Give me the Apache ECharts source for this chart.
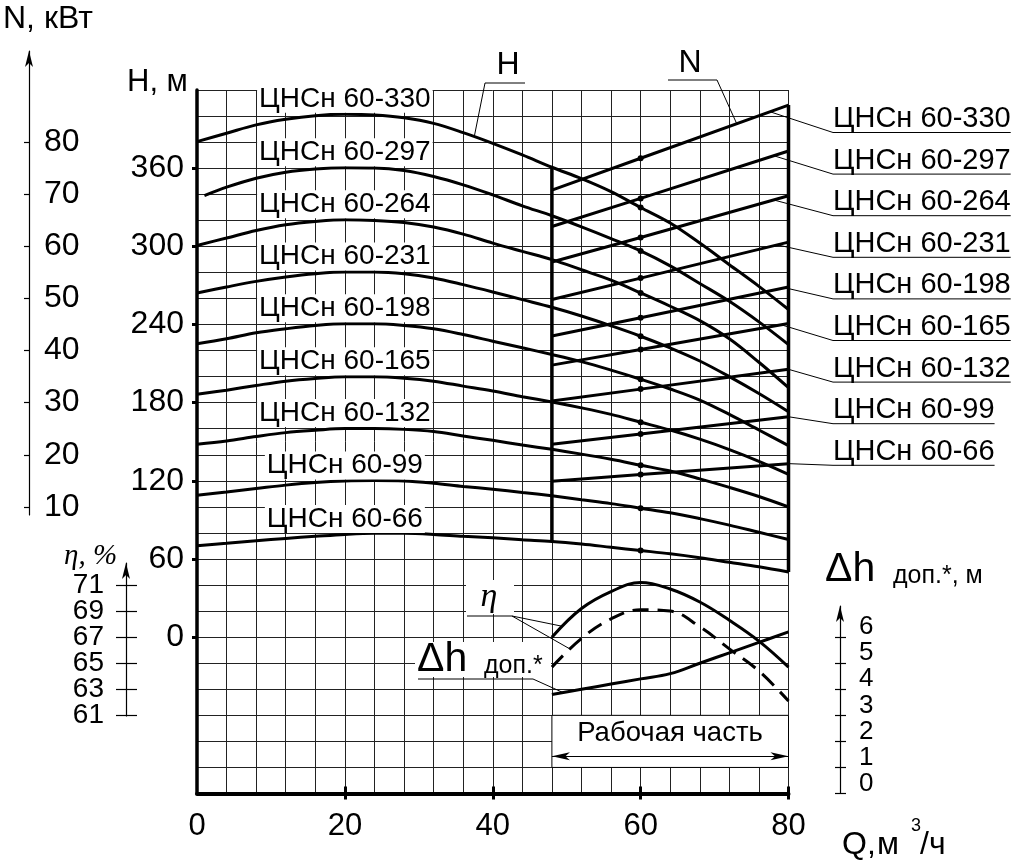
<!DOCTYPE html>
<html>
<head>
<meta charset="utf-8">
<script src="https://cdn.jsdelivr.net/npm/echarts@6/dist/echarts.min.js"></script>
<style>
  html, body { margin: 0; padding: 0; background: #fff; }
  #chart { width: 1024px; height: 863px; }
</style>
</head>
<body>
<div id="chart"></div>
<script>
// ---- данные ----
const pumpNames = ['ЦНСн 60-330', 'ЦНСн 60-297', 'ЦНСн 60-264', 'ЦНСн 60-231', 'ЦНСн 60-198',
                   'ЦНСн 60-165', 'ЦНСн 60-132', 'ЦНСн 60-99', 'ЦНСн 60-66'];

// подача Q, м3/ч для кривых H
const qH    = [0, 4, 8, 12, 16, 20, 24, 28, 32, 36, 40, 44, 48, 52, 56, 60, 64, 68, 72, 76, 80];
const qH297 = [1, 4, 8, 12, 16, 20, 24, 28, 32, 36, 40, 44, 48, 52, 56, 60, 64, 68, 72, 76, 80];

// напор H, м
const h330 = [380.4, 386.8, 393.2, 397.5, 400.3, 401.3, 400.8, 398.7, 394.4, 387.3, 379.1, 370.2, 360.7, 352, 342, 329.8, 317.9, 302.5, 285.9, 269.3, 251.5];
const h297 = [338.9, 345.4, 352.3, 356.9, 359.4, 360.4, 360.2, 358.2, 353.6, 347.2, 339.5, 331.1, 323.5, 315, 306, 296.5, 285, 271.5, 257.8, 242, 224.6];
const h264 = [300.7, 306.4, 312.2, 316.6, 319.1, 320.4, 319.9, 318.3, 314.8, 309.4, 302.5, 296.1, 289.8, 282, 274, 264.2, 254, 243, 229, 211, 191.5];
const h231 = [264.2, 268.8, 273.1, 276.5, 279, 280.3, 280.3, 279, 275.7, 270.6, 265, 259.1, 253.2, 246.5, 239, 231, 222, 212, 200, 187, 173];
const h198 = [225.2, 229, 233.6, 236.7, 239.2, 240.5, 240.5, 239.2, 236.7, 232.3, 227.2, 222.1, 217, 211.5, 205, 198, 190.5, 182, 171, 159, 147];
const h165 = [186.4, 189.6, 193.2, 196.5, 198.6, 199.9, 199.9, 198.8, 196.5, 192.7, 188.9, 184.6, 180.5, 176, 171, 165, 159, 152, 144, 135, 125];
const h132 = [148.1, 150.6, 154, 157, 158.8, 160.1, 160.1, 159.5, 157.8, 154.4, 151.1, 147.5, 144.2, 140.5, 136.5, 132, 127.5, 121.5, 115, 108, 100];
const h99  = [109, 111.5, 114.1, 116.7, 118.7, 119.9, 120.2, 119.9, 118.2, 115.7, 113.6, 111.1, 108.5, 105.5, 102.5, 99, 95.5, 91, 86, 80.5, 75];
const h66  = [70.2, 72, 74, 75.8, 77.4, 78.9, 79.7, 79.7, 78.9, 77.4, 76.3, 74.8, 73.5, 71.5, 69, 66.5, 64, 61, 57.5, 54, 50];

// мощность N, кВт (рабочая часть)
const qN   = [48, 60, 80];
const n330 = [70.8, 76.9, 87.1];
const n297 = [63.8, 69.2, 78.3];
const n264 = [57.0, 61.7, 69.7];
const n231 = [49.8, 53.9, 60.8];
const n198 = [42.8, 46.3, 52.2];
const n165 = [37.2, 40.2, 45.2];
const n132 = [30.3, 32.6, 36.4];
const n99  = [22.0, 24.0, 27.3];
const n66  = [14.9, 16.2, 18.3];

// КПД и допускаемый кавитационный запас
const qEta      = [48, 52, 56, 60, 64, 68, 72, 76, 80];
const etaSolid  = [67.0, 69.2, 70.5, 71.2, 70.7, 69.7, 68.3, 66.7, 64.7];
const etaDashed = [64.7, 66.9, 68.4, 69.1, 69.0, 67.8, 66.1, 64.4, 62.1];
const dhDop     = [3.8, 4.0, 4.2, 4.4, 4.6, 5.0, 5.4, 5.8, 6.2];

// подписи делений
const xTicks   = [0, 20, 40, 60, 80];
const hTicks   = [0, 60, 120, 180, 240, 300, 360];
const nTicks   = [10, 20, 30, 40, 50, 60, 70, 80];
const etaTicks = [61, 63, 65, 67, 69, 71];
const dhTicks  = [0, 1, 2, 3, 4, 5, 6];

// ---- связь шкал с осью H ----
const nToH = n => 60 + 4 * n;
const hToN = h => (h - 60) / 4;
const hToEta = h => 67 + h / 10;
const hToDh = h => (h + 120) / 20;

const FONT = '"Liberation Sans", Arial, sans-serif';
const G = { left: 197, right: 788.5, top: 90, bottom: 793.5 };
const H_MIN = -120, H_MAX = 420;
const pxPerH = (G.bottom - G.top) / (H_MAX - H_MIN);
const hAtPx = y => H_MAX - (y - G.top) / pxPerH;

// вспомогательные шкалы: пиксельные границы линий осей
const nAxis   = { x: 29,  top: 51,  bottom: 515 };
const etaAxis = { x: 126, top: 563, bottom: 716 };
const dhAxis  = { x: 840, top: 606, bottom: G.bottom };

function auxGrid(a) {
  return { left: a.x, width: 1, top: a.top, height: a.bottom - a.top, outerBoundsMode: 'none' };
}
function auxRange(a, fromH) {
  return { min: fromH(hAtPx(a.bottom)), max: fromH(hAtPx(a.top)) };
}

const chart = echarts.init(document.getElementById('chart'));

function hSeries(name, qs, hs) {
  return {
    type: 'line', xAxisIndex: 0, yAxisIndex: 0, smooth: 0.35, symbol: 'none', showSymbol: true,
    lineStyle: { color: '#000', width: 3 }, z: 4,
    data: qs.map((q, i) => {
      if (q === 60) return { value: [q, hs[i]], symbol: 'circle', symbolSize: 6, itemStyle: { color: '#000' } };
      if (q === 20) return {
        value: [q, hs[i]], symbol: 'circle', symbolSize: 1, itemStyle: { color: 'rgba(0,0,0,0)' },
        label: { show: true, formatter: name, position: 'top', distance: 1, color: '#000',
                 fontSize: 28, fontFamily: FONT, lineHeight: 28, backgroundColor: '#fff', padding: [0, 2] }
      };
      return [q, hs[i]];
    })
  };
}
function nSeries(ns) {
  return {
    type: 'line', xAxisIndex: 0, yAxisIndex: 2, symbol: 'none', showSymbol: true,
    lineStyle: { color: '#000', width: 3 }, z: 4,
    data: qN.map((q, i) => q === 60
      ? { value: [q, ns[i]], symbol: 'circle', symbolSize: 6, itemStyle: { color: '#000' } }
      : [q, ns[i]])
  };
}

const hCurves = [h330, h297, h264, h231, h198, h165, h132, h99, h66];
const hQs = [qH, qH297, qH, qH, qH, qH, qH, qH, qH];
const nLines = [n330, n297, n264, n231, n198, n165, n132, n99, n66];

const series = [];
hCurves.forEach((hs, i) => series.push(hSeries(pumpNames[i], hQs[i], hs)));
nLines.forEach(ns => series.push(nSeries(ns)));
series.push({
  type: 'line', xAxisIndex: 0, yAxisIndex: 3, smooth: 0.4, symbol: 'none',
  lineStyle: { color: '#000', width: 3 }, z: 4,
  data: qEta.map((q, i) => [q, etaSolid[i]])
});
series.push({
  type: 'line', xAxisIndex: 0, yAxisIndex: 3, smooth: 0.4, symbol: 'none',
  lineStyle: { color: '#000', width: 3, type: [16, 9] }, z: 4,
  data: qEta.map((q, i) => [q, etaDashed[i]])
});
series.push({
  type: 'line', xAxisIndex: 0, yAxisIndex: 4, smooth: 0.4, symbol: 'none',
  lineStyle: { color: '#000', width: 3 }, z: 4,
  data: qEta.map((q, i) => [q, dhDop[i]])
});
// границы рабочей части
series.push({
  type: 'line', xAxisIndex: 0, yAxisIndex: 0, symbol: 'none',
  lineStyle: { color: '#000', width: 3.5 }, z: 4,
  data: [[48, h330[12]], [48, h66[12]]],
  markArea: {
    silent: true, z: 3,
    itemStyle: { color: '#fff', borderColor: '#000', borderWidth: 1 },
    data: [[{ coord: [48, -60] }, { coord: [80, -100] }]]
  },
  markLine: {
    silent: true, z: 6, symbol: ['arrow', 'arrow'], symbolSize: [6, 18],
    lineStyle: { color: '#000', width: 1, type: 'solid' }, label: { show: false },
    data: [[{ coord: [48, -91.5] }, { coord: [80, -91.5] }]]
  }
});
series.push({
  type: 'line', xAxisIndex: 0, yAxisIndex: 0, symbol: 'none',
  lineStyle: { color: '#000', width: 3.5 }, z: 4,
  data: [[80, nToH(n330[2])], [80, h66[20]]]
});

const axisFont = { color: '#000', fontFamily: FONT };
const hidden = { show: false };
const noZeroLine = { show: false, onZero: false };
const arrowLine = { show: true, onZero: false, symbol: ['none', 'arrow'], symbolSize: [6, 16], lineStyle: { color: '#000', width: 1.2 } };

const option = {
  animation: false,
  backgroundColor: '#fff',
  grid: [
    { left: G.left, top: G.top, width: G.right - G.left, height: G.bottom - G.top, outerBoundsMode: 'none' },
    auxGrid(nAxis),
    auxGrid(etaAxis),
    auxGrid(dhAxis)
  ],
  xAxis: [
    { gridIndex: 0, type: 'value', position: 'bottom', min: 0, max: 80, interval: 4,
      axisLine: { onZero: false, lineStyle: { color: '#000', width: 4 } }, axisTick: hidden,
      splitLine: { show: true, lineStyle: { color: '#222', width: 1 } },
      axisLabel: Object.assign({ customValues: xTicks, fontSize: 31, margin: 17 }, axisFont) },
    { gridIndex: 0, type: 'value', position: 'bottom', min: 0, max: 80,
      axisLine: noZeroLine, axisLabel: hidden, splitLine: hidden,
      axisTick: { show: true, customValues: [20, 40, 60, 80], length: 6, lineStyle: { color: '#000', width: 3 } } },
    { gridIndex: 0, type: 'value', position: 'bottom', min: 0, max: 80,
      axisLine: noZeroLine, axisLabel: hidden, splitLine: hidden,
      axisTick: { show: true, inside: true, customValues: [20, 40, 60, 80], length: 7, lineStyle: { color: '#000', width: 3 } } },
    { gridIndex: 1, type: 'value', min: 0, max: 1, show: false },
    { gridIndex: 2, type: 'value', min: 0, max: 1, show: false },
    { gridIndex: 3, type: 'value', min: 0, max: 1, show: false }
  ],
  yAxis: [
    { gridIndex: 0, type: 'value', position: 'left', min: H_MIN, max: H_MAX, interval: 20,
      axisLine: { onZero: false, lineStyle: { color: '#000', width: 3.5 } }, axisTick: hidden, axisLabel: hidden,
      splitLine: { show: true, lineStyle: { color: '#222', width: 1 } } },
    { gridIndex: 0, type: 'value', position: 'left', min: H_MIN, max: H_MAX,
      axisLine: noZeroLine, splitLine: hidden,
      axisTick: { show: true, customValues: hTicks, length: 5, lineStyle: { color: '#000', width: 3 } },
      axisLabel: Object.assign({ customValues: hTicks, fontSize: 32, margin: 13 }, axisFont) },
    { gridIndex: 0, type: 'value', show: false, min: hToN(H_MIN), max: hToN(H_MAX) },
    { gridIndex: 0, type: 'value', show: false, min: hToEta(H_MIN), max: hToEta(H_MAX) },
    { gridIndex: 0, type: 'value', show: false, min: hToDh(H_MIN), max: hToDh(H_MAX) },
    // шкала N
    Object.assign({ gridIndex: 1, type: 'value', position: 'left', splitLine: hidden, axisLine: arrowLine,
      axisTick: { show: true, customValues: nTicks, length: 5, lineStyle: { color: '#000', width: 1.2 } },
      axisLabel: Object.assign({ customValues: nTicks, inside: true, fontSize: 32, margin: 15 }, axisFont)
    }, auxRange(nAxis, h => hToN(h))),
    // шкала η (подписи делений — ниже, текстом)
    Object.assign({ gridIndex: 2, type: 'value', position: 'left', splitLine: hidden, axisLine: arrowLine, axisLabel: hidden,
      axisTick: { show: true, customValues: etaTicks, length: 10, lineStyle: { color: '#000', width: 1.2 } }
    }, auxRange(etaAxis, h => hToEta(h))),
    Object.assign({ gridIndex: 2, type: 'value', position: 'left', splitLine: hidden, axisLine: noZeroLine, axisLabel: hidden,
      axisTick: { show: true, inside: true, customValues: etaTicks, length: 11, lineStyle: { color: '#000', width: 1.2 } }
    }, auxRange(etaAxis, h => hToEta(h))),
    // шкала Δh
    Object.assign({ gridIndex: 3, type: 'value', position: 'left', splitLine: hidden, axisLine: arrowLine, axisLabel: hidden,
      axisTick: { show: true, customValues: dhTicks, length: 5, lineStyle: { color: '#000', width: 1.2 } }
    }, auxRange(dhAxis, h => hToDh(h))),
    Object.assign({ gridIndex: 3, type: 'value', position: 'left', splitLine: hidden, axisLine: noZeroLine, axisLabel: hidden,
      axisTick: { show: true, inside: true, customValues: dhTicks, length: 6, lineStyle: { color: '#000', width: 1.2 } }
    }, auxRange(dhAxis, h => hToDh(h)))
  ],
  series: series
};
chart.setOption(option);

// ---- подписи и выноски ----
function interp(xs, ys, x) {
  for (let i = 1; i < xs.length; i++) {
    if (x <= xs[i]) {
      const t = (x - xs[i - 1]) / (xs[i] - xs[i - 1]);
      return ys[i - 1] + t * (ys[i] - ys[i - 1]);
    }
  }
  return ys[ys.length - 1];
}
const px = (q, v, yIdx) => chart.convertToPixel({ xAxisIndex: 0, yAxisIndex: yIdx }, [q, v]);

const gfx = [];
function txt(text, x, y, font, align) {
  gfx.push({ type: 'text', z: 20, silent: true,
    style: { text: text, x: x, y: y, font: font, fill: '#000', align: align || 'left', verticalAlign: 'middle' } });
}
function seg(x1, y1, x2, y2, w) {
  gfx.push({ type: 'line', z: 20, silent: true,
    shape: { x1: x1, y1: y1, x2: x2, y2: y2 }, style: { stroke: '#000', lineWidth: w || 1 } });
}
function box(x, y, w, h) {
  gfx.push({ type: 'rect', z: 15, silent: true, shape: { x: x, y: y, width: w, height: h }, style: { fill: '#fff' } });
}

const f = (s) => s + 'px ' + FONT;
const fi = (s) => 'italic ' + s + 'px "Liberation Serif", "DejaVu Serif", serif';

// подписи делений шкал η и Δh
etaTicks.forEach(v => {
  const p = chart.convertToPixel({ xAxisIndex: 4, yAxisIndex: 6 }, [0, v]);
  txt(String(v), etaAxis.x - 22, p[1], f(28), 'right');
});
dhTicks.forEach(v => {
  const p = chart.convertToPixel({ xAxisIndex: 5, yAxisIndex: 8 }, [0, v]);
  txt(String(v), dhAxis.x + 19, p[1] - 10, f(26));
});

// заголовки осей
txt('N, кВт', 3, 19, f(32));
txt('H, м', 127, 82, f(31));
txt('η, %', 64, 556, fi(29));
txt('Δh', 825, 570, f(41));
txt('доп.*, м', 893, 576, f(25));
txt('Q,', 842, 845, f(32));
txt('м', 877, 845, f(32));
txt('3', 911, 826, f(18));
txt('/ч', 920, 845, f(32));

// выноски H и N
txt('H', 508, 65, f(32), 'center');
seg(485, 83, 525, 83);
let p = px(37.5, interp(qH, h330, 37.5), 0);
seg(485, 83, p[0], p[1]);
txt('N', 690, 63, f(32), 'center');
seg(668, 80, 717, 80);
p = px(73, interp(qN, n330, 73), 2);
seg(717, 80, p[0], p[1]);

// выноски η и Δh
box(466, 580, 48, 34);
txt('η', 489, 597, fi(34), 'center');
seg(467, 616, 512, 616);
p = px(49.5, interp(qEta, etaSolid, 49.5), 3);
seg(512, 616, p[0], p[1]);
p = px(50.5, interp(qEta, etaDashed, 50.5), 3);
seg(512, 616, p[0], p[1]);

box(415, 642, 136, 35);
txt('Δh', 417, 660, f(41));
txt('доп.*', 484, 666, f(25));
seg(418, 679, 533, 679);
p = px(49.5, interp(qEta, dhDop, 49.5), 4);
seg(533, 679, p[0], p[1]);

txt('Рабочая часть', 670, 733, f(27.5), 'center');

// подписи насосов справа
const meas = document.createElement('canvas').getContext('2d');
meas.font = f(29);
const leaderQ = [77.5, 78, 78, 78.5, 79.5, 79, 80, 80, 80];
pumpNames.forEach((name, i) => {
  const cy = 119 + i * 41.6;
  const uy = cy + 13.5;
  txt(name, 833, cy, f(29));
  seg(833, uy, 833 + meas.measureText(name).width, uy);
  const pp = px(leaderQ[i], interp(qN, nLines[i], leaderQ[i]), 2);
  seg(833, uy, pp[0], pp[1]);
});

chart.setOption({ graphic: gfx });
</script>
</body>
</html>
